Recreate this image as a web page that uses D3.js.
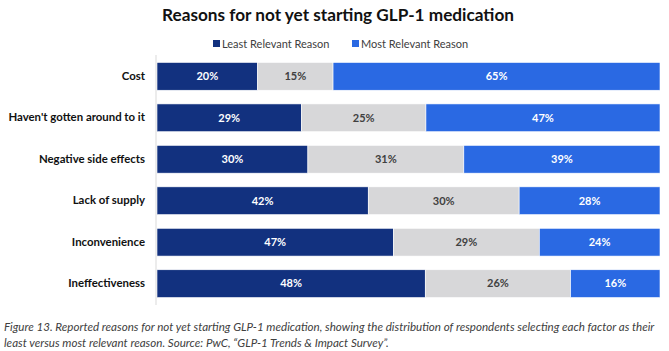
<!DOCTYPE html>
<html>
<head>
<meta charset="utf-8">
<script src="https://cdn.jsdelivr.net/npm/d3@7"></script>
<style>
  body { margin: 0; background: #fff; }
  svg { display: block; }
</style>
</head>
<body>
<div id="chart"></div>
<script>
// Raw survey shares; each bar is stretched to the full width (percent of row total).
const categories = ["Cost", "Haven't gotten around to it", "Negative side effects",
                    "Lack of supply", "Inconvenience", "Ineffectiveness"];
const leastRelevant = [20, 29, 30, 42, 47, 48];
const neutral       = [15, 25, 31, 30, 29, 26];
const mostRelevant  = [65, 47, 39, 28, 24, 16];

const seriesKeys = ["least", "neutral", "most"];
const legendItems = [
  {key: "least", label: "Least Relevant Reason"},
  {key: "most",  label: "Most Relevant Reason"}
];

const width = 669, height = 351;
const margin = {top: 55, right: 9, bottom: 46, left: 157};
const font = "Lato, 'Open Sans', sans-serif";

const color = d3.scaleOrdinal()
  .domain(seriesKeys)
  .range(["#12317f", "#d7d7d9", "#2a69e3"]);
const labelColor = {least: "#fff", neutral: "#404040", most: "#fff"};

const rows = categories.map((c, i) => ({
  category: c, least: leastRelevant[i], neutral: neutral[i], most: mostRelevant[i]
}));
const stacked = d3.stack().keys(seriesKeys).offset(d3.stackOffsetExpand)(rows);

const svg = d3.select("#chart").append("svg")
  .attr("width", width).attr("height", height)
  .style("font-family", font);

const x = d3.scaleLinear().domain([0, 1]).range([margin.left, width - margin.right]);
const y = d3.scaleBand().domain(categories)
  .range([margin.top, height - margin.bottom]).paddingInner(0.33).paddingOuter(0.18);

// title
svg.append("text")
  .attr("x", 338).attr("y", 21)
  .attr("text-anchor", "middle")
  .attr("font-size", 17.2).attr("font-weight", "bold").attr("fill", "#111")
  .text("Reasons for not yet starting GLP-1 medication");

// legend
const legend = svg.append("g");
let lx = 213;
legendItems.forEach(item => {
  legend.append("rect")
    .attr("x", lx).attr("y", 40).attr("width", 7).attr("height", 7)
    .attr("fill", color(item.key));
  legend.append("text")
    .attr("x", lx + 9).attr("y", 47.5)
    .attr("font-size", 11).attr("fill", "#404040")
    .text(item.label);
  lx += 139;
});

// bars
const layer = svg.append("g").selectAll("g")
  .data(stacked).join("g")
  .attr("fill", d => color(d.key));

layer.selectAll("rect")
  .data(d => d.map(v => Object.assign(v, {key: d.key})))
  .join("rect")
  .attr("x", d => x(d[0]))
  .attr("y", d => y(d.data.category))
  .attr("width", d => x(d[1]) - x(d[0]))
  .attr("height", y.bandwidth())
  .attr("stroke", "#fff").attr("stroke-width", 0.6);

layer.selectAll("text")
  .data(d => d)
  .join("text")
  .attr("x", d => (x(d[0]) + x(d[1])) / 2)
  .attr("y", d => y(d.data.category) + y.bandwidth() / 2)
  .attr("dy", "0.35em")
  .attr("text-anchor", "middle")
  .attr("font-size", 11).attr("font-weight", "bold")
  .attr("fill", d => labelColor[d.key])
  .text(d => d.data[d.key] + "%");

// category axis
const axis = svg.append("g")
  .attr("transform", `translate(${margin.left - 1},0)`)
  .call(d3.axisLeft(y).tickSize(0).tickPadding(11));
axis.select(".domain").attr("stroke", "#d9d9d9").attr("d", `M0,${margin.top}V${height - margin.bottom}`);
axis.selectAll("text")
  .attr("font-family", font)
  .attr("font-size", 11.4).attr("font-weight", "bold").attr("fill", "#111");

// caption
const caption = [
  "Figure 13. Reported reasons for not yet starting GLP-1 medication, showing the distribution of respondents selecting each factor as their",
  "least versus most relevant reason. Source: PwC, \u201cGLP-1 Trends & Impact Survey\u201d."
];
svg.append("g").selectAll("text")
  .data(caption).join("text")
  .attr("x", 4).attr("y", (d, i) => 331 + i * 16)
  .attr("font-size", 11.6).attr("font-style", "italic").attr("fill", "#404040")
  .text(d => d);
</script>
</body>
</html>
